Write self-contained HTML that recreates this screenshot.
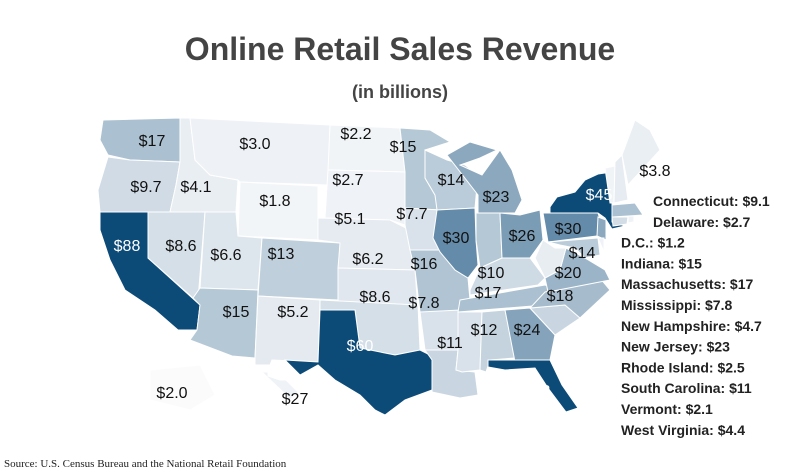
<!DOCTYPE html>
<html><head><meta charset="utf-8">
<style>
body{margin:0;background:#fff;width:800px;height:475px;overflow:hidden;font-family:"Liberation Sans",sans-serif}
svg{display:block}
</style></head>
<body>
<svg id="map" width="800" height="475" viewBox="0 0 800 475">
<text x="400" y="60" text-anchor="middle" font-size="32" font-weight="bold" fill="#444">Online Retail Sales Revenue</text>
<text x="400" y="98" text-anchor="middle" font-size="18" font-weight="bold" fill="#444">(in billions)</text>
<g id="states"></g>
<g id="labels"></g>
<g id="side"></g>
<text x="4" y="467" font-family="Liberation Serif,serif" font-size="11" fill="#222">Source: U.S. Census Bureau and the National Retail Foundation</text>
</svg>
<script>
const states=["WA","OR","CA","ID","NV","MT","WY","UT","AZ","CO","NM","ND","SD","NE","KS","OK","TX","MN","IA","MO","AR","LA","WI","IL","MI","IN","OH","KY","TN","MS","AL","GA","FL","SC","NC","VA","WV","PA","NY","VT","NH","ME","MA","CT","RI","NJ","MD","DE","AK","HI"];
const values=[17,9.7,88,4.1,8.6,3.0,1.8,6.6,15,13,5.2,2.2,2.7,5.1,6.2,8.6,60,15,7.7,16,7.8,11,14,30,23,15,26,10,17,7.8,12,24,53,11,18,20,4.4,30,45,2.1,4.7,3.8,17,9.1,2.5,23,14,2.7,2.0,2.7];
const labelText=["$17","$9.7","$88","$4.1","$8.6","$3.0","$1.8","$6.6","$15","$13","$5.2","$2.2","$2.7","$5.1","$6.2","$8.6","$60","$15","$7.7","$16","$7.8","$11","$14","$30","$23","","$26","$10","$17","","$12","$24","$53","","$18","$20","","$30","$45","","","$3.8","","","","","$14","","$2.0","$27"];
const sideNames=["Connecticut","Delaware","D.C.","Indiana","Massachusetts","Mississippi","New Hampshire","New Jersey","Rhode Island","South Carolina","Vermont","West Virginia"];
const sideValues=["$9.1","$2.7","$1.2","$15","$17","$7.8","$4.7","$23","$2.5","$11","$2.1","$4.4"];

const geom={
WA:[[103,120],[180,118],[180,162],[130,160],[108,155],[100,140]],
OR:[[108,157],[130,160],[180,162],[176,185],[170,212],[100,212],[98,190]],
CA:[[100,212],[148,212],[148,258],[200,305],[197,330],[178,330],[155,310],[125,290],[110,260],[100,230]],
ID:[[180,118],[190,118],[195,160],[210,175],[238,180],[236,212],[170,212],[176,185],[180,162]],
NV:[[148,212],[205,212],[198,300],[193,298],[148,258]],
MT:[[190,118],[330,125],[328,185],[240,182],[238,180],[210,175],[195,160]],
WY:[[240,182],[318,186],[318,240],[238,236]],
UT:[[205,212],[236,212],[238,236],[262,238],[258,290],[200,288]],
AZ:[[200,288],[258,290],[255,358],[232,356],[190,340],[197,330],[200,305],[193,298]],
CO:[[262,238],[340,243],[338,300],[258,296]],
NM:[[258,296],[320,300],[318,362],[272,360],[270,365],[255,365],[255,358]],
ND:[[330,125],[400,128],[405,172],[328,170]],
SD:[[328,170],[405,172],[405,225],[390,220],[325,218]],
NE:[[318,218],[390,220],[410,230],[415,270],[338,268],[340,243],[318,240]],
KS:[[338,268],[415,270],[418,310],[338,308]],
OK:[[320,300],[418,305],[420,350],[395,355],[360,348],[355,310],[320,310]],
TX:[[320,310],[355,310],[360,348],[395,355],[420,350],[432,356],[432,390],[405,400],[385,415],[375,410],[360,395],[335,380],[318,365],[300,375],[285,360],[318,362]],
MN:[[400,128],[430,130],[450,142],[425,150],[425,178],[435,195],[440,210],[405,208],[405,172]],
IA:[[405,208],[440,210],[448,225],[440,250],[410,250],[405,225]],
MO:[[410,250],[440,250],[455,270],[468,278],[470,300],[460,312],[420,312],[415,270]],
AR:[[420,312],[460,310],[458,350],[425,350]],
LA:[[425,350],[458,350],[456,370],[475,372],[478,395],[460,398],[432,392],[432,360]],
WI:[[425,150],[447,160],[465,165],[478,175],[475,208],[437,210],[435,195],[425,178]],
IL:[[437,210],[475,208],[476,240],[478,265],[468,278],[455,270],[440,252],[433,238]],
MI:[[482,175],[500,150],[512,170],[522,200],[515,213],[478,213],[478,195],[447,155],[470,142],[497,150],[480,158],[460,165]],
IN:[[476,213],[500,213],[502,258],[480,268],[476,240]],
OH:[[500,213],[520,215],[540,210],[543,240],[530,258],[502,258]],
KY:[[470,290],[480,268],[502,258],[530,258],[545,278],[538,285],[470,295]],
TN:[[460,300],[545,285],[560,290],[545,305],[458,312]],
MS:[[458,312],[482,312],[480,370],[462,372],[456,370],[458,350]],
AL:[[482,312],[505,310],[515,358],[490,360],[486,372],[480,370]],
GA:[[505,310],[530,308],[555,335],[550,360],[515,362]],
FL:[[488,360],[550,360],[562,385],[578,408],[566,412],[548,388],[535,368],[505,370],[488,367]],
SC:[[530,308],[565,305],[580,318],[555,335]],
NC:[[545,292],[600,278],[610,290],[580,318],[565,305],[530,308]],
VA:[[545,278],[560,270],[566,248],[585,258],[605,270],[610,280],[548,292]],
WV:[[535,258],[543,240],[555,248],[566,248],[560,270],[545,278]],
PA:[[543,213],[598,213],[605,235],[548,242]],
NY:[[550,213],[550,207],[557,197],[575,192],[585,180],[598,174],[612,172],[612,222],[625,226],[612,229],[605,218],[598,213]],
VT:[[605,168],[615,166],[614,203],[610,203]],
NH:[[615,162],[622,155],[628,200],[614,203]],
ME:[[622,155],[635,120],[650,130],[660,150],[628,185]],
MA:[[612,205],[635,203],[643,215],[612,217]],
CT:[[612,217],[628,217],[627,224],[613,226]],
RI:[[628,216],[634,216],[634,222],[628,223]],
NJ:[[598,217],[606,220],[606,240],[597,236]],
MD:[[548,242],[598,238],[600,255],[585,258],[575,248],[560,245]],
DE:[[598,238],[604,238],[604,252]],
AK:[[150,370],[200,365],[215,395],[190,410],[150,400]],
HI:[[262,372],[268,372],[268,376],[280,380],[286,380],[298,392],[290,400],[283,392]]
};
const labelPos={WA:[152,140],OR:[146,186],CA:[127,245],ID:[196,186],NV:[181,245],MT:[255,143],WY:[275,200],UT:[226,254],AZ:[236,311],CO:[281,253],NM:[293,311],ND:[356,133],SD:[348,179],NE:[350,218],KS:[368,258],OK:[375,296],TX:[360,345],MN:[403,146],IA:[412,213],MO:[424,263],AR:[424,302],LA:[450,342],WI:[451,179],IL:[456,237],MI:[496,196],OH:[522,235],KY:[491,272],TN:[488,292],AL:[484,329],GA:[527,329],FL:[537,390],NC:[560,295],VA:[568,272],PA:[568,228],NY:[599,194],ME:[655,170],MD:[582,252],AK:[172,392],HI:[295,398]};

const maxV=45;
function color(v){
  const t=Math.min(1,v/maxV);
  const a=[248,249,251],b=[12,74,120];
  const k=Math.pow(t,1.15);
  return `rgb(${a.map((c,i)=>Math.round(c+(b[i]-c)*k)).join(",")})`;
}
const NS="http://www.w3.org/2000/svg";
const gS=document.getElementById("states"),gL=document.getElementById("labels"),gD=document.getElementById("side");
states.forEach((s,i)=>{
  const p=document.createElementNS(NS,"polygon");
  p.setAttribute("points",geom[s].map(q=>q.join(",")).join(" "));
  p.setAttribute("fill",s==="AK"?"#fbfbfc":color(values[i]));
  p.setAttribute("stroke","#fff");p.setAttribute("stroke-width","1");
  
  
  gS.appendChild(p);
  if(labelText[i]&&labelPos[s]){
    const t=document.createElementNS(NS,"text");
    t.setAttribute("x",labelPos[s][0]);t.setAttribute("y",labelPos[s][1]+6);
    t.setAttribute("text-anchor","middle");t.setAttribute("font-size","16");
    t.setAttribute("fill",values[i]>=40?"#fff":"#111");
    t.textContent=labelText[i];
    
    
    gL.appendChild(t);
  }
});
sideNames.forEach((n,i)=>{
  const t=document.createElementNS(NS,"text");
  t.setAttribute("x",i<2?653:621);t.setAttribute("y",206+i*20.8);
  t.setAttribute("font-size","14");t.setAttribute("font-weight","bold");t.setAttribute("fill","#222");
  t.textContent=n+": "+sideValues[i];
  
  
  gD.appendChild(t);
});
</script>
</body></html>
